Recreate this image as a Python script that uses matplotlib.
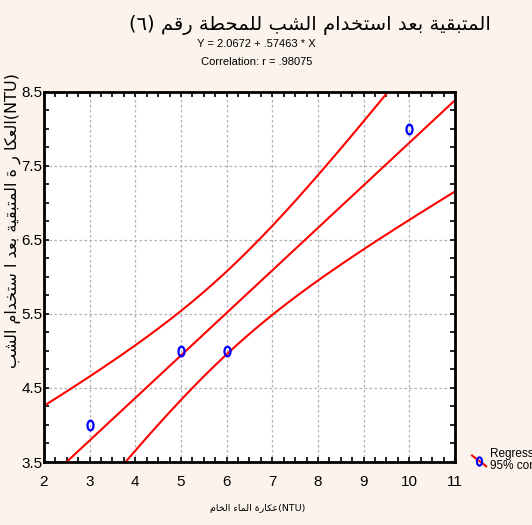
import matplotlib
matplotlib.use('Agg')
import numpy as np
import matplotlib.pyplot as plt
from matplotlib.lines import Line2D
from matplotlib.path import Path
from matplotlib.transforms import Affine2D
from matplotlib.ticker import MultipleLocator, FixedLocator
from matplotlib.legend_handler import HandlerBase

# observed points: raw water turbidity vs residual turbidity (NTU)
x_obs = [3, 5, 6, 10]
y_obs = [4.0, 5.0, 5.0, 8.0]

# fit as printed on the chart
intercept = 2.0672
slope = 0.57463
r_value = 0.98075
ci_scale = 1.12  # t * s

x_ticks = [2, 3, 4, 5, 6, 7, 8, 9, 10, 11]
y_ticks = [3.5, 4.5, 5.5, 6.5, 7.5, 8.5]

title_ar = "المتبقية بعد استخدام الشب للمحطة رقم (٦)"
ylabel_ar = "العكا ر ة المتبقية بعد ا ستخدام الشب"
xlabel_ar = "عكارة الماء الخام"

BG = '#fcf4ec'
NARROW = ['Liberation Sans Narrow', 'DejaVu Sans Condensed', 'Liberation Sans']

# --- minimal arabic shaping (matplotlib has no bidi / joining) ---
BASE = {'ء': 0xFE80, 'آ': 0xFE81, 'أ': 0xFE83, 'ؤ': 0xFE85, 'إ': 0xFE87,
        'ئ': 0xFE89, 'ا': 0xFE8D, 'ب': 0xFE8F, 'ة': 0xFE93, 'ت': 0xFE95,
        'ث': 0xFE99, 'ج': 0xFE9D, 'ح': 0xFEA1, 'خ': 0xFEA5, 'د': 0xFEA9,
        'ذ': 0xFEAB, 'ر': 0xFEAD, 'ز': 0xFEAF, 'س': 0xFEB1, 'ش': 0xFEB5,
        'ص': 0xFEB9, 'ض': 0xFEBD, 'ط': 0xFEC1, 'ظ': 0xFEC5, 'ع': 0xFEC9,
        'غ': 0xFECD, 'ف': 0xFED1, 'ق': 0xFED5, 'ك': 0xFED9, 'ل': 0xFEDD,
        'م': 0xFEE1, 'ن': 0xFEE5, 'ه': 0xFEE9, 'و': 0xFEED, 'ى': 0xFEEF,
        'ي': 0xFEF1}
DUAL = set('ئبتثجحخسشصضطظعغفقكلمنهي')
MIRROR = {'(': ')', ')': '('}


def shape(text):
    """Return arabic text in visual (left to right) order with joined forms."""
    out = []
    for i, ch in enumerate(text):
        if ch not in BASE:
            out.append(MIRROR.get(ch, ch))
            continue
        prev = text[i - 1] if i > 0 else ''
        nxt = text[i + 1] if i + 1 < len(text) else ''
        join_prev = prev in DUAL and ch != 'ء'
        join_next = ch in DUAL and nxt in BASE and nxt != 'ء'
        if join_prev and join_next:
            off = 3
        elif join_next:
            off = 2
        elif join_prev:
            off = 1
        else:
            off = 0
        out.append(chr(BASE[ch] + off))
    return ''.join(reversed(out))


# confidence band around the fitted line
n = len(x_obs)
xbar = np.mean(x_obs)
sxx = np.sum((np.array(x_obs) - xbar) ** 2)
xs = np.linspace(x_ticks[0], x_ticks[-1], 300)
fit = intercept + slope * xs
half = ci_scale * np.sqrt(1.0 / n + (xs - xbar) ** 2 / sxx)

oval = Path.unit_circle().transformed(Affine2D().scale(0.62, 1.0))

fig = plt.figure(figsize=(5.32, 5.25), dpi=100, facecolor=BG)
ax = fig.add_axes([0.0827, 0.12, 0.7725, 0.7048])
ax.set_facecolor('white')

ax.plot(xs, fit, color='red', lw=1.5)
ax.plot(xs, fit + half, color='red', lw=1.5)
ax.plot(xs, fit - half, color='red', lw=1.5)
ax.plot(x_obs, y_obs, ls='none', marker=oval, ms=7, mfc='none',
        mec='blue', mew=1.6, zorder=5)

ax.set_xlim(x_ticks[0], x_ticks[-1])
ax.set_ylim(y_ticks[0], y_ticks[-1])
ax.xaxis.set_major_locator(FixedLocator(x_ticks))
ax.yaxis.set_major_locator(FixedLocator(y_ticks))
ax.xaxis.set_minor_locator(MultipleLocator(0.25))
ax.yaxis.set_minor_locator(MultipleLocator(0.25))
ax.set_yticklabels([str(v) for v in y_ticks])
ax.tick_params(which='both', direction='in', top=True, right=True,
               length=3.5, width=1.2, color='black')
ax.tick_params(axis='x', pad=9)
ax.tick_params(axis='y', pad=1)
for lab in ax.get_xticklabels() + ax.get_yticklabels():
    lab.set_family(NARROW)
    lab.set_fontsize(11)
ax.grid(True, which='major', color='#b0b0b0', ls=(0, (2, 2)), lw=0.9)
for sp in ax.spines.values():
    sp.set_linewidth(2)
    sp.set_color('black')

# titles and labels
fig.text(0.583, 0.952, shape(title_ar), ha='center', va='center',
         fontsize=14, family='DejaVu Sans')
fig.text(0.482, 0.917, "Y = 2.0672 + .57463 * X", ha='center', va='center',
         fontsize=8, family=NARROW)
fig.text(0.482, 0.881, "Correlation: r = .98075", ha='center', va='center',
         fontsize=8, family=NARROW)
fig.text(0.024, 0.58, shape(ylabel_ar) + "(NTU)", rotation=90, ha='center',
         va='center', fontsize=11.5, family=['DejaVu Sans'])
fig.text(0.485, 0.031, shape(xlabel_ar) + "(NTU)", ha='center', va='center',
         fontsize=6.8, family=['DejaVu Sans'])


class DiagHandler(HandlerBase):
    def create_artists(self, legend, orig, xd, yd, w, h, fontsize, trans):
        x0, y0 = -xd, -yd
        line = Line2D([x0, x0 + w], [y0 + h * 1.1, y0 - h * 0.2],
                      color='red', lw=1.5, transform=trans)
        dot = Line2D([x0 + w / 2], [y0 + h * 0.45], marker=oval, ms=6,
                     mfc='none', mec='blue', mew=1.5, ls='none',
                     transform=trans)
        return [line, dot]


handle = Line2D([], [], color='red')
leg = ax.legend([handle], ["Regression\n95% confid."], handler_map={handle: DiagHandler()},
                loc='lower left', bbox_to_anchor=(1.03, -0.04), frameon=False,
                handlelength=1.2, handletextpad=0.3, borderaxespad=0,
                prop={'family': NARROW, 'size': 8.5})
for t in leg.get_texts():
    t.set_linespacing(1.0)

fig.savefig('out.png', dpi=100, facecolor=BG)
